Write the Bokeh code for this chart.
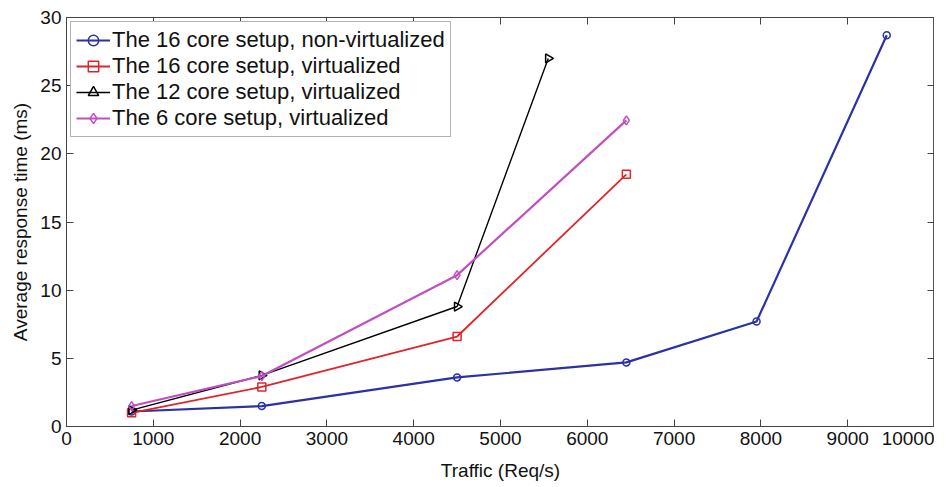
from bokeh.plotting import figure
from bokeh.models import LinearAxis, Range1d, Legend, LegendItem, FixedTicker
from bokeh.embed import file_html
from bokeh.resources import INLINE

traffic_16nv = [750, 2250, 4500, 6450, 7950, 9450]
resp_16nv = [1.1, 1.5, 3.6, 4.7, 7.7, 28.7]
traffic_16v = [750, 2250, 4500, 6450]
resp_16v = [1.0, 2.9, 6.6, 18.5]
traffic_12v = [750, 2250, 4500, 5550]
resp_12v = [1.2, 3.75, 8.8, 27.0]
traffic_6v = [750, 2250, 4500, 6450]
resp_6v = [1.5, 3.7, 11.1, 22.45]

x_ticks = [0, 1000, 2000, 3000, 4000, 5000, 6000, 7000, 8000, 9000, 10000]
y_ticks = [0, 5, 10, 15, 20, 25, 30]

labels = ["The 16 core setup, non-virtualized",
          "The 16 core setup, virtualized",
          "The 12 core setup, virtualized",
          "The 6 core setup, virtualized"]

p = figure(frame_width=868, frame_height=409, output_backend="svg", toolbar_location=None,
           x_range=Range1d(0, 10000), y_range=Range1d(0, 30),
           min_border_left=0, min_border_right=0, min_border_top=0, min_border_bottom=0)
p.margin = (8, 0, 0, 7)
p.xgrid.visible = False
p.ygrid.visible = False
p.outline_line_color = "#555555"
p.outline_line_width = 1

font = "Liberation Sans"
for ax in (p.xaxis[0], p.yaxis[0]):
    ax.major_tick_in = 7
    ax.major_tick_out = 0
    ax.minor_tick_line_color = None
    ax.axis_line_color = "#444444"
    ax.major_tick_line_color = "#444444"
    ax.major_label_text_font = font
    ax.major_label_text_font_size = "19px"
    ax.major_label_text_color = "#111111"
    ax.axis_label_text_font = font
    ax.axis_label_text_font_size = "19px"
    ax.axis_label_text_font_style = "normal"
    ax.axis_label_text_color = "#111111"

p.xaxis[0].ticker = FixedTicker(ticks=x_ticks)
p.yaxis[0].ticker = FixedTicker(ticks=y_ticks)
p.xaxis[0].axis_label = "Traffic (Req/s)"
p.yaxis[0].axis_label = "Average response time (ms)"
p.xaxis[0].major_label_standoff = 5
p.yaxis[0].major_label_standoff = 5
p.xaxis[0].axis_label_standoff = 12
p.yaxis[0].axis_label_standoff = 6

top = LinearAxis(ticker=FixedTicker(ticks=x_ticks), major_label_text_font_size="0px",
                 major_label_standoff=0,
                 axis_label="\u00a0", axis_label_text_font_size="5px", axis_label_standoff=0,
                 major_tick_in=7, major_tick_out=0, minor_tick_line_color=None,
                 axis_line_color="#444444", major_tick_line_color="#444444")
right = LinearAxis(ticker=FixedTicker(ticks=y_ticks), major_label_text_font_size="0px",
                   major_label_standoff=0,
                   major_tick_in=7, major_tick_out=0, minor_tick_line_color=None,
                   axis_line_color="#444444", major_tick_line_color="#444444")
top.major_label_overrides = {t: "" for t in x_ticks}
right.major_label_overrides = {t: "" for t in y_ticks}
p.add_layout(top, "above")
p.add_layout(right, "right")

blue = "#2c31a6"
red = "#e0242a"
black = "#000000"
mag = "#c24ec4"

l1 = p.line(traffic_16nv, resp_16nv, color=blue, line_width=2.2)
m1 = p.scatter(traffic_16nv, resp_16nv, marker="circle", size=7, fill_color=None,
               line_color=blue, line_width=1.5)
l2 = p.line(traffic_16v, resp_16v, color=red, line_width=1.8)
m2 = p.scatter(traffic_16v, resp_16v, marker="square", size=8, fill_color=None,
               line_color=red, line_width=1.5)
l3 = p.line(traffic_12v, resp_12v, color=black, line_width=1.4)
m3 = p.scatter(traffic_12v, resp_12v, marker="triangle", angle=-1.5708, size=9,
               fill_color=None, line_color=black, line_width=1.5)
l4 = p.line(traffic_6v, resp_6v, color=mag, line_width=2.2)
m4 = p.scatter(traffic_6v, resp_6v, marker="diamond", size=9, fill_color=None,
               line_color=mag, line_width=1.5)

legend = Legend(items=[LegendItem(label=labels[0], renderers=[l1, m1]),
                       LegendItem(label=labels[1], renderers=[l2, m2]),
                       LegendItem(label=labels[2], renderers=[l3, m3]),
                       LegendItem(label=labels[3], renderers=[l4, m4])],
                location="top_left")
legend.margin = 4
legend.padding = 5
legend.spacing = 0
legend.label_text_font = font
legend.label_text_font_size = "22px"
legend.label_text_color = "#111111"
legend.label_height = 26
legend.glyph_height = 26
legend.glyph_width = 34
legend.label_standoff = 2
legend.border_line_color = "#666666"
legend.border_line_width = 1
legend.background_fill_alpha = 1
p.add_layout(legend, "center")

open("out.html", "w").write(file_html(p, INLINE))
